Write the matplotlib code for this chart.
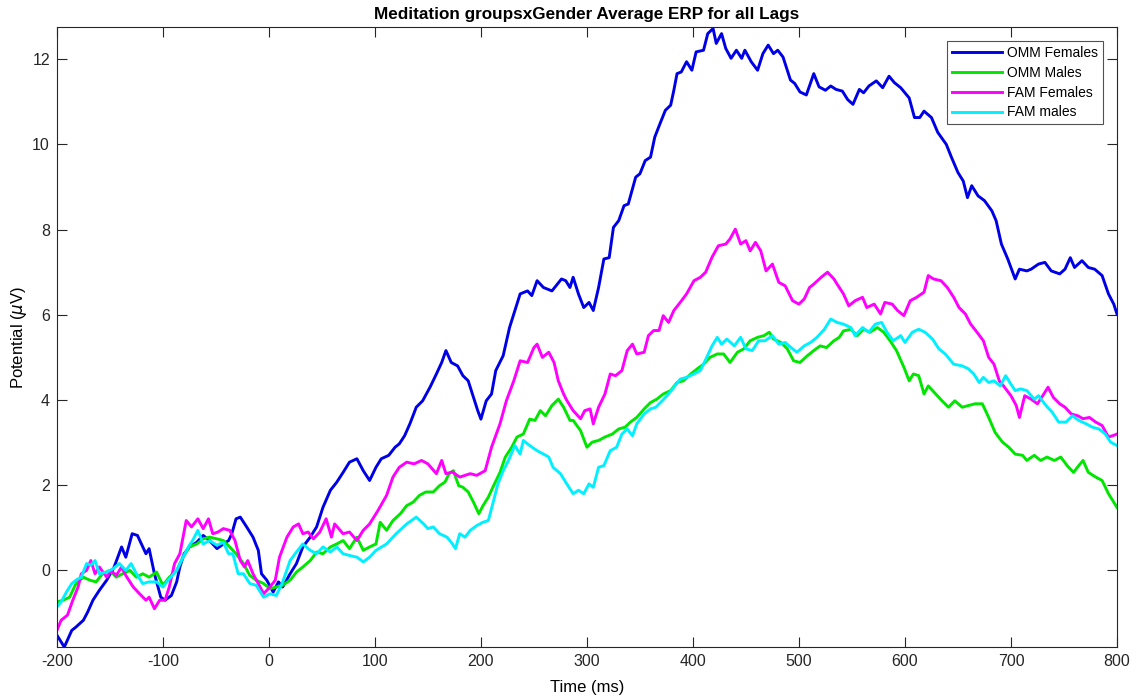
import numpy as np
import matplotlib
matplotlib.use("Agg")
import matplotlib.pyplot as plt

plt.rcParams['font.family'] = ['Liberation Sans', 'DejaVu Sans']
plt.rcParams['axes.unicode_minus'] = False

### data (time in ms, potential in microvolts)

t_omm_f = [-200, -193, -186, -182, -175, -171, -166, -160, -153, -146, -139, -135, -129, -124, -119, -116,
           -113, -108, -102, -98, -92, -87, -84, -80, -75, -68, -62, -56, -49, -43, -38, -35, -31, -27,
           -21, -15, -10, -7, -2, 4, 9, 13, 20, 26, 32, 39, 45, 51, 58, 64, 70, 76, 83, 89, 95, 101,
           106, 113, 119, 123, 128, 133, 139, 145, 152, 158, 163, 167, 172, 178, 183, 188, 192, 197,
           200, 205, 210, 214, 221, 227, 233, 237, 244, 248, 253, 259, 267, 276, 280, 284, 287, 292,
           297, 302, 306, 311, 316, 321, 325, 330, 335, 339, 346, 350, 355, 360, 364, 369, 374, 379,
           382, 385, 389, 394, 399, 403, 410, 414, 419, 422, 427, 431, 436, 441, 446, 449, 455, 461,
           466, 471, 476, 480, 485, 492, 496, 501, 507, 514, 519, 525, 530, 535, 541, 546, 551, 557,
           561, 566, 573, 579, 585, 590, 596, 604, 609, 614, 618, 625, 631, 639, 644, 650, 655, 659,
           663, 669, 675, 682, 686, 691, 697, 704, 708, 715, 719, 726, 732, 738, 746, 751, 756, 760,
           767, 773, 779, 786, 792, 797, 800]
omm_f = [-1.52, -1.80, -1.41, -1.33, -1.17, -0.98, -0.70, -0.47, -0.23, 0.08, 0.55, 0.31, 0.86, 0.82,
         0.55, 0.39, 0.51, -0.08, -0.63, -0.70, -0.59, -0.27, 0.08, 0.39, 0.55, 0.66, 0.82, 0.70, 0.51,
         0.62, 0.70, 0.86, 1.21, 1.25, 1.02, 0.78, 0.47, -0.08, -0.23, -0.51, -0.27, -0.39, -0.08, 0.16,
         0.55, 0.78, 1.02, 1.48, 1.88, 2.07, 2.30, 2.54, 2.62, 2.34, 2.11, 2.42, 2.62, 2.70, 2.89, 2.97,
         3.16, 3.44, 3.83, 3.98, 4.30, 4.61, 4.88, 5.16, 4.88, 4.80, 4.57, 4.45, 4.14, 3.75, 3.55, 3.98,
         4.14, 4.69, 5.04, 5.70, 6.17, 6.49, 6.56, 6.45, 6.80, 6.64, 6.56, 6.84, 6.80, 6.64, 6.88, 6.49,
         6.17, 6.29, 6.10, 6.64, 7.31, 7.34, 8.05, 8.21, 8.56, 8.60, 9.23, 9.31, 9.62, 9.70, 10.17, 10.49,
         10.80, 10.92, 11.27, 11.66, 11.70, 11.94, 11.74, 12.17, 12.21, 12.60, 12.72, 12.37, 12.60, 12.25,
         12.02, 12.21, 12.02, 12.21, 11.94, 11.74, 12.13, 12.33, 12.13, 12.21, 12.05, 11.51, 11.43, 11.23,
         11.16, 11.66, 11.35, 11.27, 11.37, 11.29, 11.25, 11.05, 10.94, 11.29, 11.21, 11.37, 11.49, 11.33,
         11.60, 11.45, 11.33, 11.09, 10.63, 10.63, 10.78, 10.63, 10.28, 10.00, 9.69, 9.34, 9.14, 8.75,
         9.03, 8.79, 8.68, 8.44, 8.21, 7.66, 7.31, 6.84, 7.07, 7.03, 7.07, 7.19, 7.23, 7.03, 6.96, 7.07,
         7.34, 7.11, 7.27, 7.11, 7.07, 6.92, 6.49, 6.25, 6.02]

t_omm_m = [-200, -194, -188, -182, -175, -169, -163, -157, -150, -144, -138, -131, -125, -119, -113, -106,
           -100, -94, -87, -81, -75, -68, -62, -56, -49, -43, -37, -31, -24, -18, -12, -5, 1, 7, 13, 20,
           26, 32, 39, 45, 51, 58, 64, 70, 76, 83, 89, 95, 101, 105, 111, 117, 124, 130, 136, 142, 148,
           155, 161, 166, 170, 174, 179, 183, 188, 193, 198, 202, 207, 212, 218, 223, 229, 234, 240, 246,
           251, 256, 261, 267, 273, 278, 284, 287, 294, 300, 305, 311, 317, 324, 330, 336, 341, 347, 354,
           360, 366, 372, 379, 385, 391, 398, 404, 410, 416, 423, 429, 435, 442, 448, 454, 461, 467, 472,
           476, 483, 489, 495, 501, 508, 514, 520, 526, 533, 538, 542, 549, 555, 561, 567, 574, 580, 586,
           592, 599, 604, 608, 613, 618, 622, 629, 635, 641, 647, 654, 660, 666, 673, 679, 685, 692, 698,
           704, 711, 715, 722, 728, 734, 741, 747, 753, 759, 764, 768, 773, 780, 786, 792, 800]
omm_m = [-0.74, -0.70, -0.63, -0.31, -0.16, -0.23, -0.27, -0.08, 0.00, -0.16, -0.08, 0.00, -0.16, -0.08,
         -0.16, -0.04, -0.35, -0.16, 0.00, 0.31, 0.55, 0.62, 0.74, 0.78, 0.74, 0.70, 0.55, 0.39, 0.16,
         -0.12, -0.23, -0.31, -0.43, -0.39, -0.35, -0.23, -0.04, 0.08, 0.23, 0.43, 0.39, 0.55, 0.62, 0.70,
         0.51, 0.78, 0.47, 0.55, 0.62, 1.13, 0.94, 1.17, 1.33, 1.52, 1.60, 1.76, 1.84, 1.84, 1.99, 2.07,
         2.27, 2.34, 1.99, 1.95, 1.84, 1.60, 1.33, 1.52, 1.72, 1.99, 2.30, 2.66, 2.89, 3.13, 3.20, 3.55,
         3.52, 3.75, 3.63, 3.87, 4.02, 3.83, 3.52, 3.52, 3.28, 2.89, 3.01, 3.05, 3.13, 3.20, 3.32, 3.36,
         3.48, 3.59, 3.79, 3.94, 4.02, 4.14, 4.22, 4.41, 4.45, 4.61, 4.73, 4.84, 5.00, 5.08, 5.08, 4.88,
         5.12, 5.20, 5.39, 5.47, 5.51, 5.59, 5.43, 5.35, 5.20, 4.92, 4.88, 5.04, 5.16, 5.27, 5.23, 5.39,
         5.47, 5.62, 5.66, 5.51, 5.66, 5.59, 5.70, 5.59, 5.39, 5.16, 4.77, 4.45, 4.61, 4.57, 4.14, 4.33,
         4.14, 3.98, 3.83, 3.98, 3.83, 3.87, 3.91, 3.91, 3.59, 3.24, 3.01, 2.89, 2.73, 2.70, 2.58, 2.70,
         2.58, 2.66, 2.58, 2.66, 2.46, 2.30, 2.46, 2.58, 2.30, 2.19, 2.11, 1.80, 1.48]

t_fam_f = [-200, -196, -190, -185, -180, -177, -172, -168, -164, -160, -153, -149, -144, -139, -135, -128,
           -122, -116, -113, -108, -103, -98, -94, -89, -84, -78, -73, -67, -62, -57, -53, -48, -43, -37,
           -32, -27, -23, -20, -15, -10, -5, 1, 6, 10, 17, 23, 28, 32, 37, 42, 48, 54, 59, 62, 70, 76, 83,
           89, 95, 103, 111, 117, 123, 130, 137, 144, 150, 158, 163, 167, 173, 180, 190, 196, 204, 210,
           218, 224, 231, 237, 244, 250, 253, 258, 264, 269, 273, 278, 281, 287, 294, 298, 303, 306, 311,
           317, 322, 327, 333, 338, 343, 347, 354, 358, 363, 368, 372, 377, 382, 388, 394, 401, 407, 412,
           418, 424, 431, 435, 440, 445, 450, 454, 459, 464, 469, 475, 481, 487, 494, 500, 505, 510, 514,
           521, 527, 533, 536, 542, 547, 553, 560, 564, 571, 577, 581, 588, 593, 599, 605, 611, 618, 622,
           627, 634, 640, 646, 651, 657, 662, 668, 674, 679, 684, 689, 693, 700, 705, 708, 713, 719, 725,
           730, 735, 740, 746, 751, 757, 763, 768, 774, 780, 786, 792, 797, 800]
fam_f = [-1.41, -1.17, -1.05, -0.70, -0.39, -0.08, 0.00, 0.23, -0.08, 0.08, -0.16, 0.00, -0.12, 0.08, -0.12,
         -0.39, -0.55, -0.70, -0.63, -0.90, -0.70, -0.70, -0.39, 0.16, 0.39, 1.17, 1.02, 1.21, 0.98, 1.21,
         0.86, 0.90, 0.98, 0.94, 0.70, 0.23, 0.08, 0.23, -0.08, -0.31, -0.55, -0.39, -0.23, 0.31, 0.78, 1.02,
         1.09, 0.86, 0.90, 0.74, 0.90, 1.21, 0.78, 1.09, 0.86, 0.90, 0.70, 0.94, 1.09, 1.41, 1.76, 2.19, 2.42,
         2.54, 2.50, 2.58, 2.50, 2.27, 2.58, 2.27, 2.31, 2.19, 2.27, 2.23, 2.34, 2.89, 3.44, 3.98, 4.45, 4.92,
         4.88, 5.23, 5.31, 5.00, 5.12, 4.88, 4.45, 4.14, 3.99, 3.75, 3.56, 3.75, 3.79, 3.44, 3.83, 4.14, 4.61,
         4.57, 4.69, 5.16, 5.31, 5.08, 5.12, 5.51, 5.63, 5.63, 5.98, 5.82, 6.10, 6.29, 6.49, 6.80, 6.88, 7.00,
         7.35, 7.62, 7.66, 7.78, 8.01, 7.66, 7.74, 7.50, 7.70, 7.50, 7.03, 7.19, 6.76, 6.68, 6.33, 6.25, 6.37,
         6.64, 6.72, 6.88, 7.00, 6.84, 6.72, 6.49, 6.21, 6.33, 6.41, 6.17, 6.25, 6.02, 6.29, 6.25, 6.10, 5.98,
         6.33, 6.41, 6.53, 6.92, 6.84, 6.80, 6.64, 6.41, 6.17, 6.02, 5.78, 5.59, 5.39, 5.00, 4.84, 4.45, 4.33,
         4.10, 3.87, 3.59, 4.10, 4.02, 3.91, 4.10, 4.30, 4.06, 3.91, 3.83, 3.67, 3.63, 3.56, 3.59, 3.48, 3.40,
         3.13, 3.17, 3.20]

t_fam_m = [-200, -196, -191, -186, -182, -177, -172, -168, -164, -160, -153, -147, -141, -135, -130, -125,
           -119, -113, -106, -100, -94, -87, -81, -76, -72, -67, -62, -56, -49, -43, -38, -34, -29, -24, -18,
           -12, -5, 1, 7, 13, 20, 26, 32, 39, 45, 51, 58, 64, 70, 76, 83, 89, 95, 101, 111, 120, 130, 139,
           146, 150, 155, 161, 168, 172, 176, 180, 185, 190, 196, 202, 207, 212, 216, 221, 226, 232, 237, 240,
           246, 253, 259, 264, 268, 275, 281, 287, 292, 297, 302, 306, 311, 316, 322, 328, 333, 338, 343, 347,
           354, 360, 365, 371, 377, 382, 388, 394, 401, 407, 413, 418, 423, 427, 432, 439, 445, 450, 456, 462,
           468, 475, 481, 487, 494, 498, 505, 511, 517, 524, 530, 536, 542, 549, 553, 560, 566, 572, 578, 583,
           589, 596, 600, 607, 613, 619, 626, 632, 638, 646, 654, 660, 665, 670, 674, 679, 684, 690, 695, 700,
           704, 709, 715, 722, 726, 733, 739, 745, 752, 758, 764, 771, 777, 783, 789, 794, 800]
fam_m = [-0.86, -0.74, -0.51, -0.31, -0.23, -0.16, 0.16, 0.12, 0.23, -0.08, -0.04, 0.04, 0.16, 0.00, 0.16,
         -0.08, -0.31, -0.27, -0.27, -0.39, -0.20, 0.00, 0.31, 0.55, 0.70, 0.94, 0.62, 0.70, 0.59, 0.66, 0.39,
         0.39, -0.08, -0.08, -0.31, -0.35, -0.63, -0.55, -0.59, -0.27, 0.23, 0.43, 0.62, 0.47, 0.39, 0.55,
         0.43, 0.55, 0.39, 0.35, 0.31, 0.20, 0.31, 0.47, 0.62, 0.86, 1.09, 1.25, 1.09, 0.98, 1.02, 0.86, 0.78,
         0.66, 0.51, 0.86, 0.78, 0.94, 1.05, 1.13, 1.17, 1.64, 2.03, 2.34, 2.58, 2.93, 2.73, 3.05, 2.93, 2.81,
         2.73, 2.66, 2.42, 2.27, 2.03, 1.80, 1.88, 1.80, 2.03, 1.95, 2.42, 2.46, 2.81, 2.89, 3.20, 3.32, 3.16,
         3.44, 3.67, 3.79, 3.83, 3.98, 4.14, 4.30, 4.49, 4.53, 4.61, 4.69, 5.00, 5.27, 5.47, 5.31, 5.43, 5.27,
         5.47, 5.20, 5.16, 5.39, 5.39, 5.51, 5.31, 5.35, 5.20, 5.12, 5.27, 5.35, 5.47, 5.66, 5.90, 5.82, 5.78,
         5.70, 5.51, 5.70, 5.59, 5.78, 5.82, 5.59, 5.39, 5.51, 5.35, 5.59, 5.66, 5.59, 5.43, 5.20, 5.08, 4.84,
         4.80, 4.73, 4.61, 4.41, 4.53, 4.41, 4.45, 4.33, 4.57, 4.37, 4.22, 4.26, 4.22, 4.02, 4.10, 3.87, 3.71,
         3.48, 3.48, 3.63, 3.52, 3.44, 3.36, 3.32, 3.20, 3.01, 2.93]

labels = ['OMM Females', 'OMM Males', 'FAM Females', 'FAM males']
colours = ['#0000e6', '#00e600', '#ff00ff', '#00f0ff']

x_ticks = np.arange(-200, 801, 100)
y_ticks = np.arange(0, 13, 2)

### figure

fig = plt.figure(figsize=(11.38, 6.98), dpi=100)
ax = fig.add_axes([0.050, 0.073, 0.9315, 0.888])

series = [(t_omm_f, omm_f), (t_omm_m, omm_m), (t_fam_f, fam_f), (t_fam_m, fam_m)]
for (tt, vv), lab, col in zip(series, labels, colours):
    ax.plot(tt, vv, color=col, lw=2.1, label=lab)

ax.set_xlim(-200, 800)
ax.set_ylim(-1.8, 12.75)
ax.set_xticks(x_ticks)
ax.set_yticks(y_ticks)
ax.tick_params(direction='in', top=True, right=True, length=7, width=0.8,
               colors='#262626', labelsize=11.5, pad=5)
for sp in ax.spines.values():
    sp.set_color('#262626')
    sp.set_linewidth(0.8)

ax.set_title('Meditation groupsxGender Average ERP for all Lags', fontsize=12.3,
             fontweight='bold', pad=6)
ax.set_xlabel('Time (ms)', fontsize=12, labelpad=8)
ax.set_ylabel(r'Potential ($\mu$V)', fontsize=12, labelpad=2)

leg = ax.legend(loc='upper right', fontsize=10, fancybox=False, edgecolor='#262626',
                handlelength=3.6, borderaxespad=1.0, labelspacing=0.42, borderpad=0.35,
                handletextpad=0.4)
leg.get_frame().set_linewidth(0.8)

plt.savefig('out.png', dpi=100)
